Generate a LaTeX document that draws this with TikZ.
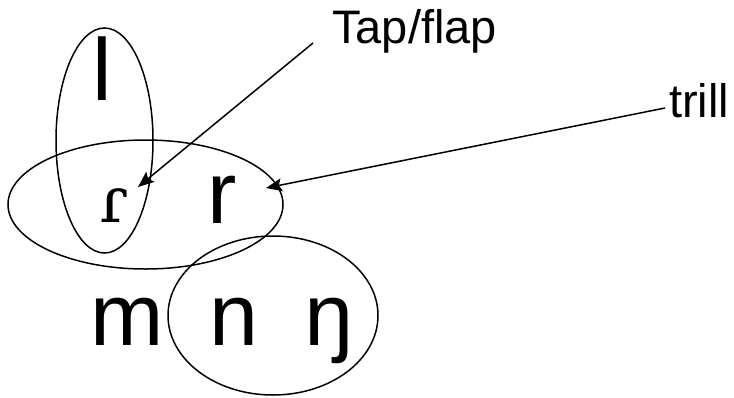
\documentclass[tikz,border=0pt]{standalone}
\usepackage{fontspec}
\setmainfont{Liberation Sans}
\newfontfamily\ipaserif{DejaVu Serif}
\usetikzlibrary{shapes.geometric, arrows.meta}
\tikzstyle{ring} = [ellipse, draw=black, line width=1.5pt, inner sep=0pt]
\tikzstyle{letter} = [anchor=base, inner sep=0pt, font=\fontsize{88}{88}\selectfont]
\tikzstyle{tag} = [anchor=base west, inner sep=0pt, font=\fontsize{47}{47}\selectfont]
\tikzstyle{arrow} = [line width=1.5pt, -{Stealth[length=16pt, width=13pt, inset=3pt]}]

\begin{document}
\begin{tikzpicture}[x=1pt, y=-1pt]
	\useasboundingbox (0,0) rectangle (734,397);
	\node (lateral) [ring, minimum width=97pt, minimum height=225pt] at (104.5,140.5) {};
	\node (rhotic) [ring, minimum width=275pt, minimum height=129pt] at (145.5,204.5) {};
	\node (nasal) [ring, minimum width=210pt, minimum height=159pt] at (273,315.5) {};
	
	\node (l) [letter] at (102,100) {l};
	\node (tap) [letter, font=\fontsize{64}{64}\ipaserif] at (114,222) {ɾ};
	\node (r) [letter] at (222,223) {r};
	\node (m) [letter] at (127,345) {m};
	\node (n) [letter] at (234,345) {n};
	\node (eng) [letter] at (329,345) {ŋ};
	
	\node (taplabel) [tag] at (332,43) {Tap/flap};
	\node (trilllabel) [tag] at (669,117) {trill};
	\coordinate (taptip) at (138,187);
	\coordinate (trilltip) at (266,188);
	
	\draw [arrow] ([xshift=-19pt]taplabel.base west) -- (taptip);
	\draw [arrow] ([xshift=-4pt, yshift=9pt]trilllabel.base west) -- (trilltip);
\end{tikzpicture}
\end{document}
